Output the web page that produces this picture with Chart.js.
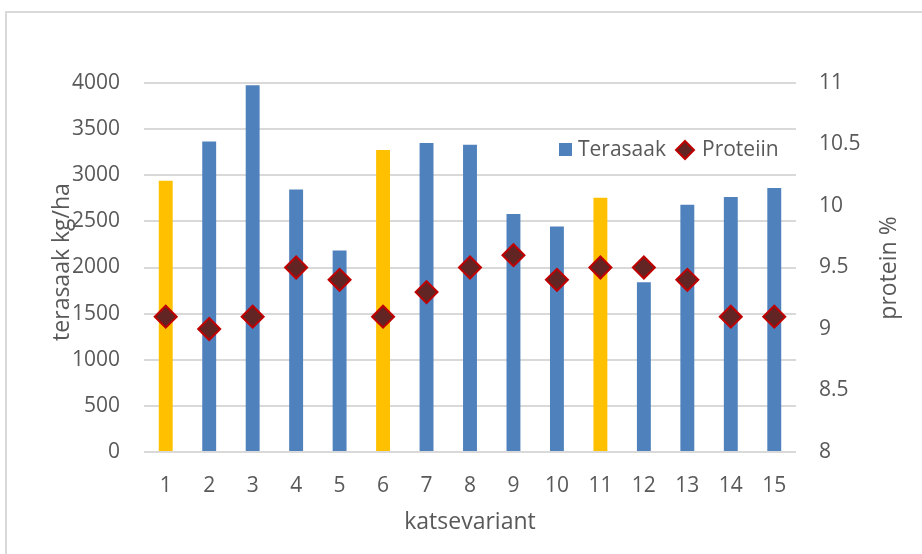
<!DOCTYPE html>
<html>
<head>
<meta charset="utf-8">
<script src="https://cdn.jsdelivr.net/npm/chart.js@4/dist/chart.umd.min.js"></script>
<style>
    html, body { margin: 0; padding: 0; background: #fff; overflow: hidden; }
    #wrap { position: relative; width: 922px; height: 554px; }
    #frame { position: absolute; left: 5px; top: 11px; width: 1000px; height: 700px;
             border-left: 2px solid #d9d9d9; border-top: 2px solid #d9d9d9; }
    canvas { position: absolute; left: 0; top: 0; }
</style>
</head>
<body>
<div id="wrap">
    <div id="frame"></div>
    <canvas id="chart" width="922" height="554"></canvas>
</div>
<script>
// Data
const variants = ['1', '2', '3', '4', '5', '6', '7', '8', '9', '10', '11', '12', '13', '14', '15'];
const grainYield = [2940, 3365, 3975, 2845, 2185, 3275, 3350, 3330, 2580, 2445, 2755, 1840, 2680, 2765, 2862];
const protein = [9.1, 9.0, 9.1, 9.5, 9.4, 9.1, 9.3, 9.5, 9.6, 9.4, 9.5, 9.5, 9.4, 9.1, 9.1];
const controlVariants = ['1', '6', '11']; // highlighted in yellow

const yieldTicks = { min: 0, max: 4000, step: 500 };
const proteinTicks = { min: 8, max: 11, step: 0.5 };

const BLUE = '#4F81BD';
const YELLOW = '#FFC000';
const TEXT = '#595959';
const GRID = '#d9d9d9';
const FONT = '"Open Sans", sans-serif';

const barColors = variants.map(v => controlVariants.includes(v) ? YELLOW : BLUE);

// Axis titles and the in-plot legend
const decorPlugin = {
    id: 'decor',
    afterDraw(chart) {
        const ctx = chart.ctx;
        const area = chart.chartArea;
        ctx.save();
        ctx.fillStyle = TEXT;
        ctx.font = '23px ' + FONT;
        ctx.textAlign = 'center';
        ctx.textBaseline = 'middle';

        // x title
        ctx.fillText('katsevariant', (area.left + area.right) / 2, 522);

        // left title
        ctx.save();
        ctx.translate(62, 262);
        ctx.rotate(-Math.PI / 2);
        ctx.fillText('terasaak kg/ha', 0, 0);
        ctx.restore();

        // right title
        ctx.save();
        ctx.translate(889, 268);
        ctx.rotate(-Math.PI / 2);
        ctx.fillText('protein %', 0, 0);
        ctx.restore();

        // legend
        ctx.font = '21px ' + FONT;
        ctx.textAlign = 'left';
        ctx.fillStyle = BLUE;
        ctx.fillRect(559, 143, 13, 13);
        ctx.fillStyle = TEXT;
        ctx.fillText('Terasaak', 578, 150);

        ctx.beginPath();
        ctx.moveTo(685, 141);
        ctx.lineTo(694, 150);
        ctx.lineTo(685, 159);
        ctx.lineTo(676, 150);
        ctx.closePath();
        ctx.fillStyle = '#632523';
        ctx.fill();
        ctx.lineWidth = 2;
        ctx.strokeStyle = '#C00000';
        ctx.stroke();
        ctx.fillStyle = TEXT;
        ctx.fillText('Proteiin', 702, 150);
        ctx.restore();
    }
};

const ctx = document.getElementById('chart').getContext('2d');
new Chart(ctx, {
    type: 'bar',
    data: {
        labels: variants,
        datasets: [{
            label: 'Terasaak',
            data: grainYield,
            backgroundColor: barColors,
            borderWidth: 0,
            categoryPercentage: 1,
            barPercentage: 0.32,
            yAxisID: 'y',
            order: 2
        }, {
            type: 'line',
            label: 'Proteiin',
            data: protein,
            showLine: false,
            pointStyle: 'rectRot',
            pointRadius: 11,
            pointBackgroundColor: '#632523',
            pointBorderColor: '#C00000',
            pointBorderWidth: 2,
            yAxisID: 'y1',
            order: 1
        }]
    },
    options: {
        responsive: false,
        animation: false,
        layout: { padding: { top: 83, left: 0, right: 0, bottom: 0 } },
        plugins: {
            legend: { display: false },
            tooltip: { enabled: false }
        },
        scales: {
            x: {
                grid: { display: false },
                border: { display: false },
                ticks: { color: TEXT, font: { family: FONT, size: 21 }, padding: 13, maxRotation: 0 },
                afterFit(scale) { scale.height = 102; }
            },
            y: {
                position: 'left',
                min: yieldTicks.min,
                max: yieldTicks.max,
                grid: { color: GRID, lineWidth: 2, drawTicks: false },
                border: { display: false },
                ticks: {
                    stepSize: yieldTicks.step,
                    color: TEXT,
                    font: { family: FONT, size: 21 },
                    padding: 24,
                    callback: v => String(v)
                },
                afterFit(scale) { scale.width = 144; }
            },
            y1: {
                position: 'right',
                min: proteinTicks.min,
                max: proteinTicks.max,
                grid: { drawOnChartArea: false, drawTicks: false },
                border: { display: false },
                ticks: {
                    stepSize: proteinTicks.step,
                    color: TEXT,
                    font: { family: FONT, size: 21 },
                    padding: 23,
                    callback: v => String(v)
                },
                afterFit(scale) { scale.width = 126; }
            }
        }
    },
    plugins: [decorPlugin]
});
</script>
</body>
</html>
